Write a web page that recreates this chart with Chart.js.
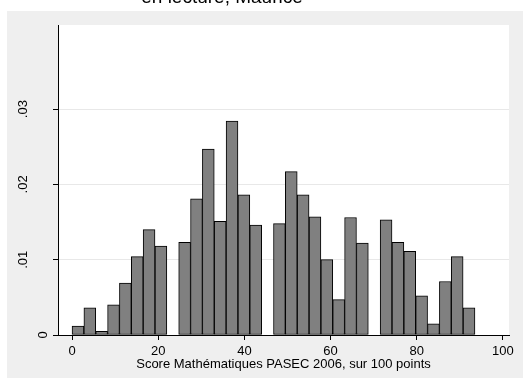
<!DOCTYPE html>
<html>
<head>
<meta charset="utf-8">
<script src="https://cdn.jsdelivr.net/npm/chart.js@4/dist/chart.umd.min.js"></script>
<style>
  html, body { margin: 0; padding: 0; background: #fff; }
  #wrap { width: 523px; height: 378px; }
</style>
</head>
<body>
<div id="wrap"><canvas id="myChart"></canvas></div>
<script>
// histogram bins: first left edge and width, in score points
const binStart = 0;
const binWidth = 2.75;

// density per bin (null = empty bin)
const density = [
  0.0012, 0.0036, 0.0005, 0.0040, 0.0069, 0.0104, 0.0140, 0.0118,
  null,   0.0123, 0.0181, 0.0247, 0.0151, 0.0284, 0.0186, 0.0146,
  null,   0.0148, 0.0217, 0.0186, 0.0157, 0.0100, 0.0047, 0.0156,
  0.0122, null,   0.0153, 0.0123, 0.0111, 0.0052, 0.0015, 0.0071,
  0.0104, 0.0036
];

const xTicks = [0, 20, 40, 60, 80, 100];
const yTicks = [0, 0.01, 0.02, 0.03];
const yTickLabels = ['0', '.01', '.02', '.03'];

const titleText = 'en lecture, Maurice';
const xTitle = 'Score Mathématiques PASEC 2006, sur 100 points';

const FONT = '"Liberation Sans", Arial, sans-serif';

const points = density.map((d, i) => ({ x: binStart + binWidth * (i + 0.5), y: d }));

// stata-like backdrop: grey outer region, white plot region, cut-off title on top
const backdrop = {
  id: 'backdrop',
  beforeDraw(chart) {
    const { ctx, chartArea: a } = chart;
    ctx.save();
    ctx.fillStyle = '#ffffff';
    ctx.fillRect(0, 0, chart.width, chart.height);
    ctx.fillStyle = '#efefef';
    ctx.fillRect(7, 11, chart.width - 7, chart.height - 11);
    ctx.fillStyle = '#ffffff';
    ctx.fillRect(a.left, a.top, a.right - a.left, a.bottom - a.top);
    ctx.restore();
  },
  afterDraw(chart) {
    const { ctx } = chart;
    const y = chart.scales.y;
    ctx.save();
    ctx.fillStyle = '#000';
    ctx.font = '19px ' + FONT;
    ctx.textAlign = 'center';
    ctx.textBaseline = 'alphabetic';
    ctx.fillText(titleText, 222, 3);

    // vertical y labels
    ctx.font = '13px ' + FONT;
    ctx.textBaseline = 'middle';
    yTicks.forEach((v, i) => {
      const label = yTickLabels[i];
      const px = y.getPixelForValue(v);
      const cx = y.right - 15 - (label.length - 1) * 10;
      ctx.save();
      ctx.translate(cx, px);
      ctx.rotate(-Math.PI / 2);
      ctx.fillText(label, 0, 0);
      ctx.restore();
    });
    ctx.restore();
  }
};

const ctx = document.getElementById('myChart').getContext('2d');
const myChart = new Chart(ctx, {
  type: 'bar',
  data: {
    datasets: [{
      data: points,
      backgroundColor: '#808080',
      borderColor: '#000000',
      borderWidth: 1,
      borderSkipped: false,
      barPercentage: 1,
      categoryPercentage: 1
    }]
  },
  options: {
    responsive: true,
    maintainAspectRatio: false,
    animation: false,
    layout: { padding: { left: 7, top: 25, right: 14, bottom: 6 } },
    plugins: {
      legend: { display: false },
      tooltip: { enabled: false }
    },
    scales: {
      x: {
        type: 'linear',
        offset: false,
        min: -3.26,
        max: 101.4,
        afterBuildTicks: (s) => { s.ticks = xTicks.map(v => ({ value: v })); },
        afterFit: (s) => { s.height = 37; },
        grid: { offset: false, drawOnChartArea: false, color: '#000', tickColor: '#000', tickLength: 5 },
        border: { color: '#000', width: 1 },
        ticks: { color: '#000', padding: 4, font: { family: FONT, size: 13 }, maxRotation: 0 },
        title: { display: true, text: xTitle, color: '#000', padding: 0, font: { family: FONT, size: 13 } }
      },
      y: {
        min: 0,
        max: 0.04117,
        afterBuildTicks: (s) => { s.ticks = yTicks.map(v => ({ value: v })); },
        afterFit: (s) => { s.width = 51; },
        grid: {
          color: (c) => c.tick && c.tick.value === 0 ? 'rgba(0,0,0,0)' : '#e8e8e8',
          tickColor: '#000',
          tickLength: 5
        },
        border: { color: '#000', width: 1 },
        ticks: { display: false }
      }
    }
  },
  plugins: [backdrop]
});
</script>
</body>
</html>
